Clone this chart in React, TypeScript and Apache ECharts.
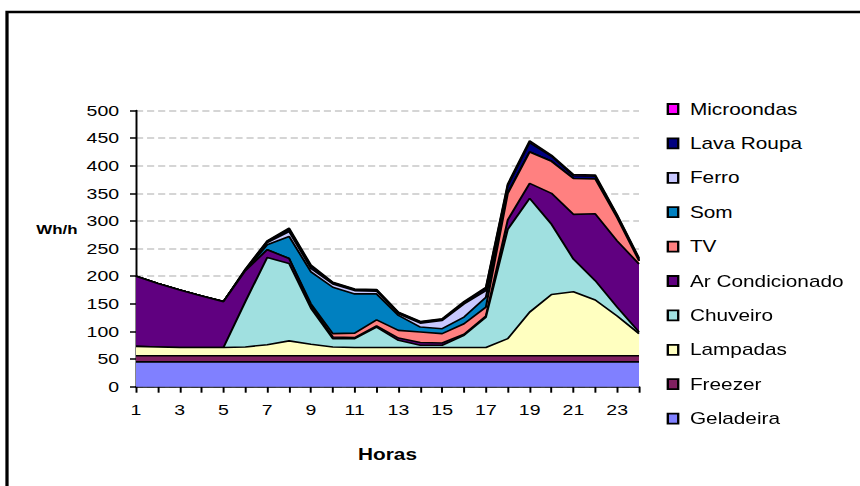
import React, { useEffect, useRef } from "react";
import * as echarts from "echarts";

// horizontal stretch of the reference picture
const S = 1.3;
const W = 860 / S;
const H = 486;

const hours = ["1","2","3","4","5","6","7","8","9","10","11","12","13","14","15","16","17","18","19","20","21","22","23","24"];

const geladeira = [45,45,45,45,45,45,45,45,45,45,45,45,45,45,45,45,45,45,45,45,45,45,45,45];
const freezer = [11,11,11,11,11,11,11,11,11,11,11,11,11,11,11,11,11,11,11,11,11,11,11,11];
const lampadas = [17,16,15,15,15,16,20,27,21,16,15,15,15,15,15,15,15,31,79,111,116,101,72,40];
const chuveiro = [0,0,0,0,0,82,158,140,65,15,16,37,13,4,4,22,55,198,206,127,59,35,16,3];
const arCondicionado = [127,115,104,93,83,56,14,9,5,3,2,2,4,5,4,2,2,17,27,56,81,121,120,123];
const tv = [0,0,0,0,0,0,0,0,3,6,8,11,14,19,17,19,16,48,57,58,65,63,42,6];
const som = [0,0,0,0,0,0,9,40,58,84,71,47,27,9,9,12,18,0,0,0,0,0,0,0];
const ferro = [0,0,0,0,0,0,4,9,6,6,6,5,3,7,15,24,12,0,0,0,0,0,0,0];
const lavaRoupa = [0,0,0,0,0,2,2,4,4,2,2,2,2,2,2,2,4,14,17,9,5,5,4,3];
const microondas = [0,0,0,0,0,1,1,2,2,1,1,1,1,1,1,2,2,3,3,2,2,2,1,2];

const yTicks = [0, 500, 50];

const seriesDefs = [
  { name: "Geladeira", data: geladeira, color: "#8080FF" },
  { name: "Freezer", data: freezer, color: "#802060" },
  { name: "Lampadas", data: lampadas, color: "#FFFFC0" },
  { name: "Chuveiro", data: chuveiro, color: "#A0E0E0" },
  { name: "Ar Condicionado", data: arCondicionado, color: "#600080" },
  { name: "TV", data: tv, color: "#FF8080" },
  { name: "Som", data: som, color: "#0080C0" },
  { name: "Ferro", data: ferro, color: "#C8C8FF" },
  { name: "Lava Roupa", data: lavaRoupa, color: "#000080" },
  { name: "Microondas", data: microondas, color: "#FF00FF" },
];

export default function App() {
  const ref = useRef<HTMLDivElement>(null);
  useEffect(() => {
    const chart = echarts.init(ref.current!, null, { renderer: "svg", width: W, height: H });
    const font = "Liberation Sans";
    chart.setOption({
      animation: false,
      backgroundColor: "#fff",
      textStyle: { fontFamily: font, color: "#000" },
      grid: { left: 136 / S, right: W - 639 / S, top: 110.5, bottom: H - 386.7 },
      legend: {
        orient: "vertical",
        left: 512.8,
        top: 101,
        itemGap: 18.4,
        itemWidth: 8,
        itemHeight: 10,
        icon: "rect",
        selectedMode: false,
        padding: 0,
        itemStyle: { borderColor: "#000", borderWidth: 1.8 },
        textStyle: { fontFamily: font, fontSize: 16, lineHeight: 16, color: "#000", padding: [0, 0, 0, 4] },
        data: seriesDefs.map((s) => s.name).reverse(),
      },
      xAxis: {
        type: "category",
        data: hours,
        boundaryGap: false,
        name: "Horas",
        nameLocation: "middle",
        nameGap: 60,
        nameTextStyle: { fontFamily: font, fontSize: 16, fontWeight: "bold", color: "#000" },
        axisLine: { lineStyle: { color: "#000", width: 1.5 } },
        axisTick: { show: true, interval: 0, length: 6, lineStyle: { color: "#000", width: 1.5 } },
        axisLabel: { interval: 1, margin: 16, fontSize: 15, color: "#000", fontFamily: font },
        splitLine: { show: false },
      },
      yAxis: {
        type: "value",
        min: yTicks[0],
        max: yTicks[1],
        interval: yTicks[2],
        axisLine: { show: true, lineStyle: { color: "#000", width: 1.5 } },
        axisTick: { show: true, length: 6 / S, lineStyle: { color: "#000", width: 1.5 } },
        axisLabel: { margin: 13, fontSize: 15, color: "#000", fontFamily: font },
        splitLine: { show: true, lineStyle: { color: "#C8C8C8", width: 1.5, type: [5.5, 3] } },
      },
      graphic: [
        {
          type: "rect",
          shape: { x: 7 / S, y: 12, width: 1000, height: 1000 },
          style: { fill: "none", stroke: "#000", lineWidth: 2.5 },
          silent: true,
        },
        {
          type: "text",
          x: 57 / S,
          y: 229,
          style: { text: "Wh/h", fontFamily: font, fontSize: 13, fontWeight: "bold", fill: "#000", align: "center", verticalAlign: "middle" },
          silent: true,
        },
      ],
      series: seriesDefs.map((s, i) => ({
        name: s.name,
        type: "line",
        stack: "total",
        data: s.data,
        symbol: "none",
        showSymbol: false,
        z: 20 - i,
        lineStyle: { color: "#000", width: 1.6 },
        itemStyle: { color: s.color },
        areaStyle: { color: s.color, opacity: 1 },
        emphasis: { disabled: true },
      })),
    });
    return () => chart.dispose();
  }, []);
  return (
    <div style={{ position: "fixed", left: 0, top: 0, width: 860, height: 486, overflow: "hidden", background: "#fff" }}>
      <div ref={ref} style={{ width: W, height: H, transform: `scaleX(${S})`, transformOrigin: "0 0" }} />
    </div>
  );
}
